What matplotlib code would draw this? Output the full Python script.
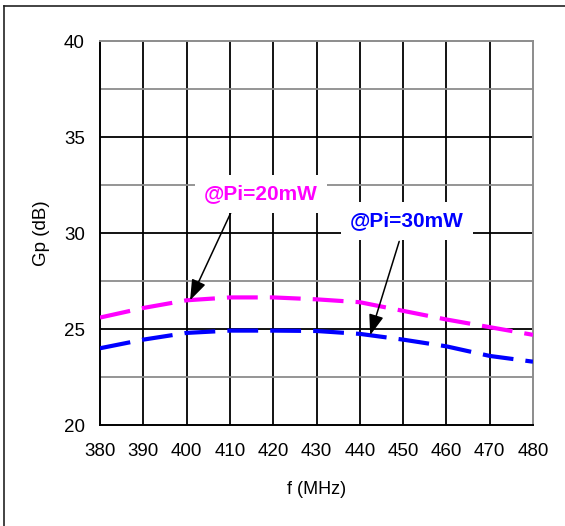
import matplotlib.pyplot as plt
from matplotlib.lines import Line2D

# Data
freq = [380, 390, 400, 410, 420, 430, 440, 450, 460, 470, 480]
gp_20mw = [25.6, 26.1, 26.5, 26.65, 26.65, 26.55, 26.4, 25.95, 25.5, 25.1, 24.7]
gp_30mw = [24.0, 24.45, 24.8, 24.92, 24.92, 24.9, 24.75, 24.45, 24.1, 23.6, 23.3]
x_ticks = list(range(380, 481, 10))
y_ticks = [20, 25, 30, 35, 40]

plt.rcParams['font.family'] = ['Liberation Sans', 'DejaVu Sans']

fig = plt.figure(figsize=(5.65, 5.26), dpi=100)
ax = fig.add_axes([100 / 565, 1 - 425 / 526, 433 / 565, 383.7 / 526])

# outer frame (top and left edges only)
fig.add_artist(Line2D([4 / 565, 1], [1 - 5.5 / 526, 1 - 5.5 / 526], color='#222222', lw=1.2, transform=fig.transFigure))
fig.add_artist(Line2D([4 / 565, 4 / 565], [0, 1 - 5.5 / 526], color='#222222', lw=1.2, transform=fig.transFigure))

ax.set_xlim(380, 480)
ax.set_ylim(20, 40)

# grid
for x in x_ticks[1:-1]:
    ax.axvline(x, color='black', lw=1.3, zorder=1)
for y in [25, 30, 35]:
    ax.axhline(y, color='black', lw=1.3, zorder=1)
for y in [22.5, 27.5, 32.5, 37.5]:
    ax.axhline(y, color='#8c8c8c', lw=1.3, zorder=1)

ax.spines['left'].set_color('black')
ax.spines['bottom'].set_color('black')
ax.spines['top'].set_color('#8c8c8c')
ax.spines['right'].set_color('#8c8c8c')
for s in ax.spines.values():
    s.set_linewidth(1.4)

l1, = ax.plot(freq, gp_20mw, color='#FF00FF', lw=3, linestyle='--', zorder=3)
l1.set_dashes([7.4, 2.9])
l1.set_dash_capstyle('butt')
l2, = ax.plot(freq, gp_30mw, color='#0000FF', lw=3, linestyle='--', zorder=3)
l2.set_dashes([7.4, 2.9])
l2.set_dash_capstyle('butt')

ax.set_xticks(x_ticks)
ax.set_yticks(y_ticks)
ax.tick_params(axis='both', length=0, labelsize=13.5)
ax.tick_params(axis='x', pad=13)
ax.tick_params(axis='y', pad=11)

ax.set_xlabel('f (MHz)', fontsize=13)
ax.set_ylabel('Gp (dB)', fontsize=13.5)
ax.xaxis.set_label_coords(0.5, -0.145)
ax.yaxis.set_label_coords(-0.135, 0.5)
ax.yaxis.label.set_va('center')

# annotations
ax.annotate('', xy=(400.8, 26.5), xytext=(410.2, 31.06),
            arrowprops=dict(arrowstyle='-|>,head_length=0.7,head_width=0.25', color='black', lw=1.1,
                            mutation_scale=18, shrinkA=0, shrinkB=0), zorder=4)
ax.annotate('', xy=(442.4, 24.68), xytext=(449.1, 29.57),
            arrowprops=dict(arrowstyle='-|>,head_length=0.7,head_width=0.25', color='black', lw=1.1,
                            mutation_scale=18, shrinkA=0, shrinkB=0), zorder=4)

ax.text(417.2, 32.05, '@Pi=20mW', color='#FF00FF', fontsize=15, fontweight='bold', ha='center', va='center',
        bbox=dict(facecolor='white', edgecolor='none', boxstyle='square,pad=0.45'), zorder=5)
ax.text(450.9, 30.65, '@Pi=30mW', color='#0000FF', fontsize=15, fontweight='bold', ha='center', va='center',
        bbox=dict(facecolor='white', edgecolor='none', boxstyle='square,pad=0.45'), zorder=5)

fig.savefig('out.png', dpi=100)
